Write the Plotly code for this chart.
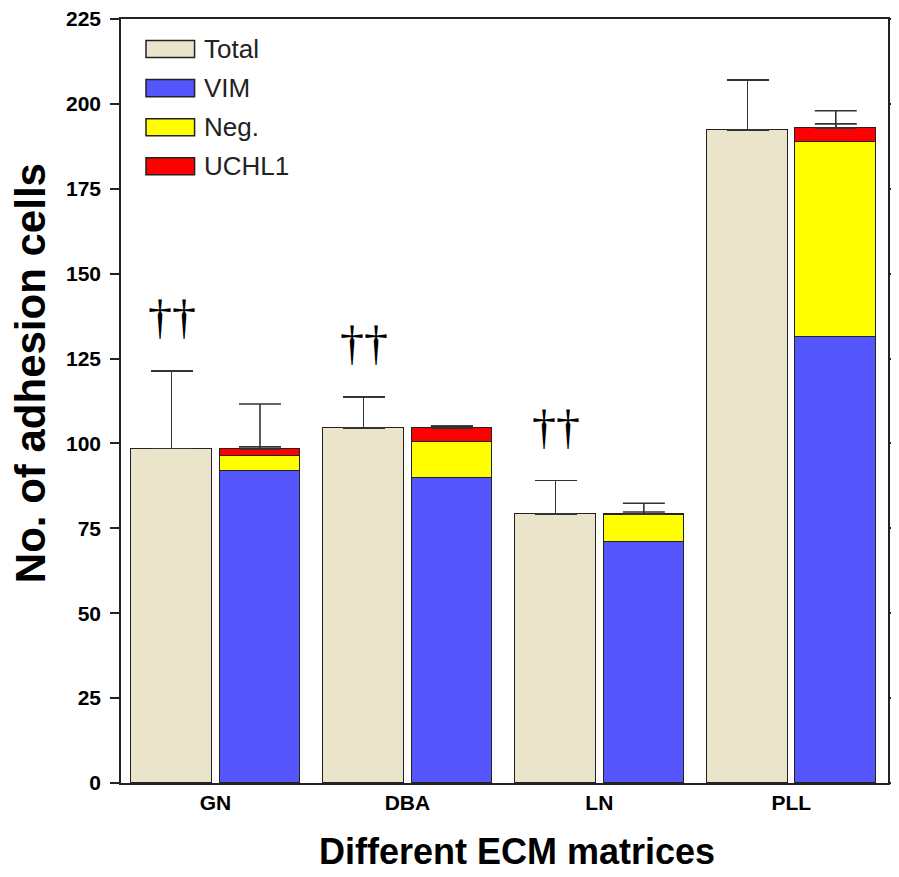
import plotly.graph_objects as go

categories = ["GN", "DBA", "LN", "PLL"]
total = [98.5, 104.6, 79.3, 192.4]
total_err = [22.9, 9.0, 9.8, 14.7]
vim = [91.8, 89.9, 71.1, 131.3]
neg = [4.5, 10.5, 7.7, 57.5]
uchl1 = [2.1, 4.1, 0.4, 4.1]
stack_err_small = [0.6, 0.6, 0.6, 1.2]
stack_err_big = [13.2, 0.6, 3.2, 5.1]
marks = ["††", "††", "††", ""]
y_ticks = [0, 25, 50, 75, 100, 125, 150, 175, 200, 225]

FONT = "Liberation Sans, Arial, sans-serif"
EDGE = "#222222"
OFF_T, OFF_S, BW = -0.228, 0.232, 0.42

idx = list(range(len(categories)))
xt = [i + OFF_T for i in idx]
xs = [i + OFF_S for i in idx]
stack_top = [a + b + c for a, b, c in zip(vim, neg, uchl1)]

fig = go.Figure()
err_style = dict(type="data", symmetric=False, color="#333333", thickness=1.6, width=21)

fig.add_trace(go.Bar(x=xt, y=total, width=BW, name="Total",
                     marker=dict(color="#EAE5CA", line=dict(color=EDGE, width=1.5)),
                     error_y=dict(array=total_err, arrayminus=[0] * 4, **err_style)))
for name, vals, col in [("VIM", vim, "#5555FC"), ("Neg.", neg, "#FFFF00"), ("UCHL1", uchl1, "#FF0000")]:
    fig.add_trace(go.Bar(x=xs, y=vals, width=BW, name=name,
                         marker=dict(color=col, line=dict(color=EDGE, width=1.5))))
for errs in (stack_err_small, stack_err_big):
    fig.add_trace(go.Scatter(x=xs, y=stack_top, mode="markers",
                             marker=dict(size=1, opacity=0),
                             error_y=dict(array=errs, arrayminus=[0] * 4, **err_style),
                             hoverinfo="skip"))

annotations = []
for i in idx:
    if marks[i]:
        annotations.append(dict(x=xt[i], y=total[i] + total_err[i] + 16, xref="x", yref="y",
                                text=marks[i], showarrow=False, yanchor="middle",
                                font=dict(family="Liberation Serif, Times New Roman, serif",
                                          size=48, color="#000000")))

# custom legend (positions relative to the plot frame, mapped to paper fractions)
leg_items = [("Total", "#EAE5CA"), ("VIM", "#5555FC"), ("Neg.", "#FFFF00"), ("UCHL1", "#FF0000")]
L, R, T, B = 120.7, 888.0, 19.3, 783.0
px = lambda v: (v - L) / (R - L)
py = lambda v: (B - v) / (B - T)
shapes = []
for k, (lab, col) in enumerate(leg_items):
    cy = 49.3 + 39.1 * k
    shapes.append(dict(type="rect", xref="paper", yref="paper",
                       x0=px(145.7), x1=px(194.3), y0=py(cy + 8.5), y1=py(cy - 8.5),
                       fillcolor=col, line=dict(color=EDGE, width=1.5)))
    annotations.append(dict(x=px(201.5), y=py(cy), xref="paper", yref="paper", text=lab,
                            showarrow=False, xanchor="left", yanchor="middle",
                            font=dict(family=FONT, size=26, color="#222222")))

annotations.append(dict(x=px(516.5), y=py(851), xref="paper", yref="paper",
                        text="<b>Different ECM matrices</b>", showarrow=False,
                        xanchor="center", yanchor="middle",
                        font=dict(family=FONT, size=36, color="#000000")))
annotations.append(dict(x=px(31), y=py(373), xref="paper", yref="paper",
                        text="<b>No. of adhesion cells</b>", showarrow=False, textangle=-90,
                        xanchor="center", yanchor="middle",
                        font=dict(family=FONT, size=42, color="#000000")))

# the page adds an 8px body margin at top-left
fig.update_layout(
    barmode="stack", bargap=0, showlegend=False,
    width=891, height=869,
    margin=dict(l=113, r=11, t=11, b=94, pad=0, autoexpand=False),
    plot_bgcolor="white", paper_bgcolor="white",
    font=dict(family=FONT, color="#000000"),
    annotations=annotations, shapes=shapes,
    xaxis=dict(range=[-0.492, 3.504], tickmode="array", tickvals=idx, ticktext=categories,
               ticks="", showgrid=False, zeroline=False, showline=True, linecolor=EDGE,
               linewidth=1.5, mirror=True, ticklabeloverflow="allow", automargin=False,
               tickfont=dict(family=FONT, size=21, weight="bold", color="#000000")),
    yaxis=dict(range=[0, 225], tickmode="array", tickvals=y_ticks, ticks="outside",
               ticklen=9, tickwidth=1.5, tickcolor=EDGE, showgrid=False, zeroline=False,
               showline=True, linecolor=EDGE, linewidth=1.5, mirror="ticks",
               ticklabelstandoff=5, ticklabeloverflow="allow", automargin=False,
               tickfont=dict(family=FONT, size=21, weight="bold", color="#000000")),
)

fig.write_html("out.html")
